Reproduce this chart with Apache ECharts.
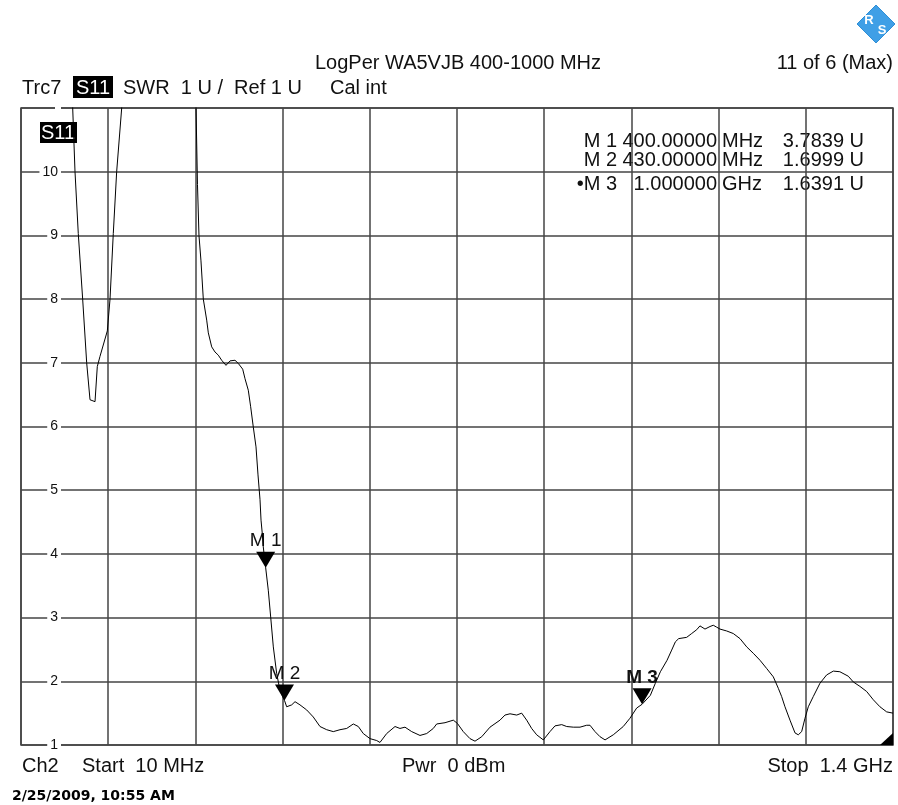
<!DOCTYPE html>
<html>
<head>
<meta charset="utf-8">
<script src="https://cdn.jsdelivr.net/npm/echarts@6/dist/echarts.min.js"></script>
<style>
html,body{margin:0;padding:0;background:#fff;}
#c{width:898px;height:805px;}
</style>
</head>
<body>
<div id="c"></div>
<script>
// Frequency (MHz) of trace points
const freqs = [10, 56, 92.4, 96.1, 101.3, 108.3, 114.7, 120.0, 128.0, 131.6, 135.9, 147.6, 151.9, 157.1, 162.5, 170.5,
  199.7, 247.5, 285.8, 289.0, 291.3, 293.7, 296.9, 300.6, 306.0, 308.6, 314.0, 319.2, 324.5, 329.9, 336.8, 343.2, 351.1,
  356.4, 363.4, 367.1, 372.3, 376.1, 380.3, 384.6, 387.8, 391.0, 392.6, 394.6, 396.2, 400, 404.2, 408.0, 412.2, 417.6,
  422.8, 430, 433.5, 441.5, 446.8, 454.7, 465.4, 475.9, 486.6, 497.3, 507.8, 518.5, 529.2, 539.7, 547.7, 555.6, 566.3,
  577.0, 582.2, 592.9, 606.2, 614.1, 622.1, 632.8, 646.0, 656.7, 667.2, 672.6, 685.9, 699.1, 705.5, 715.0, 725.7, 733.7,
  744.4, 757.6, 773.5, 781.5, 789.5, 800.2, 808.1, 816.1, 824.0, 832.0, 842.6, 853.2, 861.2, 871.9, 879.9, 890.4, 901.1,
  911.7, 917.0, 925.0, 933.0, 941.0, 954.1, 970.0, 980.7, 991.4, 1000, 1013.2, 1021.2, 1029.2, 1039.8, 1047.2, 1053.1,
  1058.4, 1071.1, 1079.1, 1087.1, 1092.3, 1100.3, 1108.3, 1113.5, 1118.9, 1124.2, 1134.9, 1145.4, 1156.1, 1166.8, 1177.3,
  1188.0, 1198.7, 1209.2, 1217.2, 1222.5, 1227.8, 1235.8, 1243.8, 1249.0, 1254.4, 1259.7, 1265.0, 1272.9, 1283.6, 1294.2,
  1304.9, 1315.3, 1328.7, 1336.7, 1347.3, 1358.0, 1368.6, 1379.2, 1389.9, 1400];
// SWR values (U)
const swr = [25, 16, 11.0, 10.0, 9.03, 8.0, 7.0, 6.42, 6.39, 6.94, 7.1, 7.5, 8.0, 9.03, 10.0, 11.0,
  16, 20, 14, 11.0, 9.8, 9.0, 8.6, 8.0, 7.67, 7.47, 7.25, 7.17, 7.12, 7.04, 6.96, 7.03, 7.04,
  6.99, 6.9, 6.75, 6.57, 6.31, 5.99, 5.68, 5.24, 4.85, 4.53, 4.32, 4.11, 3.7839, 3.43, 3.01, 2.54, 2.12,
  1.86, 1.6999, 1.60, 1.63, 1.68, 1.63, 1.55, 1.44, 1.29, 1.24, 1.21, 1.24, 1.26, 1.33, 1.29, 1.18, 1.10,
  1.07, 1.04, 1.18, 1.29, 1.26, 1.28, 1.21, 1.15, 1.18, 1.26, 1.33, 1.35, 1.39, 1.34, 1.21, 1.10, 1.06,
  1.13, 1.28, 1.39, 1.47, 1.49, 1.47, 1.50, 1.39, 1.26, 1.16, 1.08, 1.21, 1.30, 1.32, 1.29, 1.28, 1.28,
  1.31, 1.31, 1.21, 1.13, 1.08, 1.16, 1.29, 1.42, 1.58, 1.6391, 1.78, 1.97, 2.15, 2.33, 2.49, 2.62,
  2.67, 2.69, 2.75, 2.81, 2.87, 2.82, 2.86, 2.88, 2.85, 2.82, 2.79, 2.75, 2.67, 2.54, 2.44,
  2.33, 2.20, 2.07, 1.89, 1.76, 1.60, 1.39, 1.19, 1.16, 1.21, 1.42, 1.60, 1.76, 1.97, 2.10,
  2.16, 2.15, 2.08, 1.99, 1.92, 1.84, 1.71, 1.60, 1.52, 1.50];
// Markers
const markerNames = ['M 1', 'M 2', 'M 3'];
const markerFreqs = [400, 430, 1000];
const markerVals = [3.7839, 1.6999, 1.6391];
const activeMarker = 2;
// Axes
const startFreq = 10, stopFreq = 1400;
const yMin = 1, yMax = 11;
const yTicks = [1, 2, 3, 4, 5, 6, 7, 8, 9, 10];

const FONT = '"Liberation Sans", Arial, sans-serif';
const chart = echarts.init(document.getElementById('c'), null, {renderer: 'canvas'});

const GL = 21, GT = 108, GR = 5, GB = 60;

function fmtFreq(f) {
  return f < 1000 ? f.toFixed(5) + ' MHz' : (f / 1000).toFixed(6) + ' GHz';
}

const graphics = [];
function txt(x, y, s, opt) {
  graphics.push(Object.assign({
    type: 'text', x: x, y: y, silent: true,
    style: Object.assign({text: s, fill: '#111', font: '20px ' + FONT, textVerticalAlign: 'middle', textAlign: 'left'}, opt || {})
  }));
}
// header
txt(458, 63, 'LogPer WA5VJB 400-1000 MHz', {textAlign: 'center'});
txt(893, 63, '11 of 6 (Max)', {textAlign: 'right'});
txt(22, 88, 'Trc7');
graphics.push({type: 'rect', shape: {x: 73, y: 76, width: 40, height: 22}, style: {fill: '#000'}, silent: true});
txt(76, 88, 'S11', {fill: '#fff'});
txt(123, 88, 'SWR  1 U /  Ref 1 U');
txt(330, 88, 'Cal int');
// in-plot trace label
graphics.push({type: 'rect', shape: {x: 40, y: 122, width: 37, height: 21}, style: {fill: '#000'}, silent: true});
txt(41, 133, 'S11', {fill: '#fff'});
// marker table
const rowY = [141, 160, 184];
for (let i = 0; i < markerNames.length; i++) {
  const fs = fmtFreq(markerFreqs[i]);
  const num = fs.split(' ')[0], unit = fs.split(' ')[1];
  txt(617, rowY[i], (i === activeMarker ? '\u2022' : '') + markerNames[i], {textAlign: 'right'});
  txt(717, rowY[i], num, {textAlign: 'right'});
  txt(722, rowY[i], unit);
  txt(864, rowY[i], markerVals[i].toFixed(4) + ' U', {textAlign: 'right'});
}
// footer
txt(22, 766, 'Ch2');
txt(82, 766, 'Start  ' + startFreq + ' MHz');
txt(402, 766, 'Pwr  0 dBm');
txt(893, 766, 'Stop  ' + (stopFreq / 1000) + ' GHz', {textAlign: 'right'});
txt(12, 796, '2/25/2009, 10:55 AM', {font: 'bold 14px "DejaVu Sans", Verdana, sans-serif', fill: '#000'});
// R&S logo
graphics.push({type: 'polygon', shape: {points: [[876, 5], [895, 24], [876, 43], [857, 24]]},
  style: {fill: '#3f9fe6', stroke: '#2f8fd6'}, silent: true});
txt(869, 20, 'R', {fill: '#fff', font: 'bold 13px ' + FONT, textAlign: 'center'});
txt(882, 30, 'S', {fill: '#fff', font: 'bold 13px ' + FONT, textAlign: 'center'});

const data = freqs.map((f, i) => [f, swr[i]]);
const mpData = markerNames.map((n, i) => ({
  coord: [markerFreqs[i], markerVals[i]],
  label: {formatter: n, fontWeight: i === activeMarker ? 'bold' : 'normal'}
}));

chart.setOption({
  animation: false,
  backgroundColor: '#fff',
  grid: {left: GL, top: GT, right: GR, bottom: GB, show: true, borderColor: '#444', borderWidth: 1.5},
  xAxis: [
    {type: 'value', min: startFreq, max: stopFreq, show: false},
    {type: 'value', min: 0, max: 10, interval: 1, position: 'bottom',
      axisLine: {show: false}, axisTick: {show: false}, axisLabel: {show: false},
      splitLine: {show: true, lineStyle: {color: '#444', width: 1.5}}}
  ],
  yAxis: {
    type: 'value', min: yMin, max: yMax, interval: 1,
    axisLine: {show: false}, axisTick: {show: false},
    splitLine: {show: true, lineStyle: {color: '#444', width: 1.5}},
    axisLabel: {
      inside: true, margin: 40, align: 'right', color: '#111', fontFamily: FONT, fontSize: 14,
      backgroundColor: '#fff', padding: [1, 3, 1, 3],
      formatter: v => yTicks.indexOf(v) >= 0 ? String(v) : ''
    },
    z: 5
  },
  series: [{
    type: 'line', xAxisIndex: 0, data: data, showSymbol: false, clip: true,
    lineStyle: {color: '#000', width: 1}, z: 10,
    markPoint: {
      symbol: 'triangle', symbolRotate: 180, symbolSize: [19, 16], symbolOffset: [0, '-50%'],
      itemStyle: {color: '#000'},
      label: {show: true, position: 'top', distance: 1, color: '#111', fontFamily: FONT, fontSize: 19},
      data: mpData
    }
  }],
  graphic: graphics
});

// stop-end indicator at bottom-right corner of plot
const br = chart.convertToPixel({xAxisIndex: 0, yAxisIndex: 0}, [stopFreq, yMin]);
chart.setOption({graphic: graphics.concat([{type: 'polygon', silent: true, z: 20,
  shape: {points: [[br[0], br[1] - 12], [br[0], br[1]], [br[0] - 13, br[1]]]}, style: {fill: '#000'}}])});
</script>
</body>
</html>
